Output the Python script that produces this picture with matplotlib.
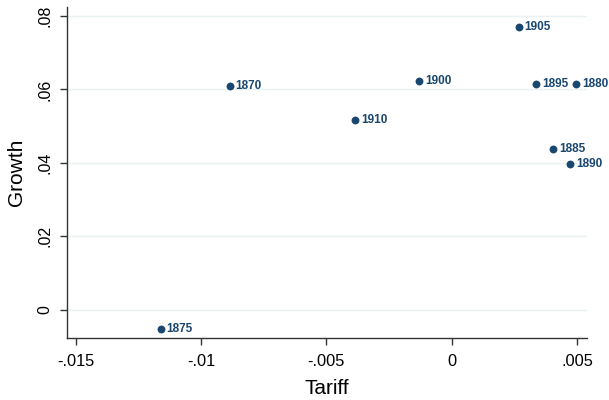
import matplotlib
matplotlib.use("Agg")
import matplotlib.pyplot as plt

plt.rcParams["font.family"] = ["Liberation Sans", "DejaVu Sans"]

years  = ["1870", "1875", "1880", "1885", "1890", "1895", "1900", "1905", "1910"]
tariff = [-0.00886, -0.01161, 0.00497, 0.00405, 0.00472, 0.00336, -0.0013, 0.00267, -0.00385]
growth = [0.0609, -0.00518, 0.0614, 0.0438, 0.0398, 0.0616, 0.0622, 0.0770, 0.0518]

xticks = [-0.015, -0.01, -0.005, 0, 0.005]
xtick_labels = ["-.015", "-.01", "-.005", "0", ".005"]
yticks = [0, 0.02, 0.04, 0.06, 0.08]
ytick_labels = ["0", ".02", ".04", ".06", ".08"]

NAVY = "#1a476f"
GRID = "#eaf2f3"

fig = plt.figure(figsize=(6.09, 4.0), dpi=100)
ax = fig.add_axes([0.1095, 0.1558, 0.8544, 0.8267])

ax.scatter(tariff, growth, s=32, color=NAVY, zorder=3, linewidths=0)
for x, y, lab in zip(tariff, growth, years):
    ax.annotate(lab, (x, y), xytext=(4.3, 0), textcoords="offset points",
                va="center", ha="left", fontsize=8.5, fontweight="bold",
                color=NAVY, zorder=4)

ax.set_xlim(-0.01536, 0.0054)
ax.set_ylim(-0.00756, 0.08245)
ax.set_xticks(xticks, xtick_labels)
ax.set_yticks(yticks, ytick_labels)
ax.tick_params(axis="y", labelrotation=90, labelsize=11.5, length=5,
               width=1, color="#333333", pad=5)
ax.tick_params(axis="x", labelsize=11.8, length=5, width=1,
               color="#333333", pad=7)
for lab in ax.get_yticklabels():
    lab.set_va("center")

ax.grid(axis="y", color=GRID, linewidth=1)
ax.set_axisbelow(True)
for side in ["top", "right"]:
    ax.spines[side].set_visible(False)
for side in ["left", "bottom"]:
    ax.spines[side].set_color("#333333")
    ax.spines[side].set_linewidth(1)

ax.set_xlabel("Tariff", fontsize=15, labelpad=7)
ax.set_ylabel("Growth", fontsize=15, labelpad=8.5)

fig.savefig("out.png", dpi=100)
